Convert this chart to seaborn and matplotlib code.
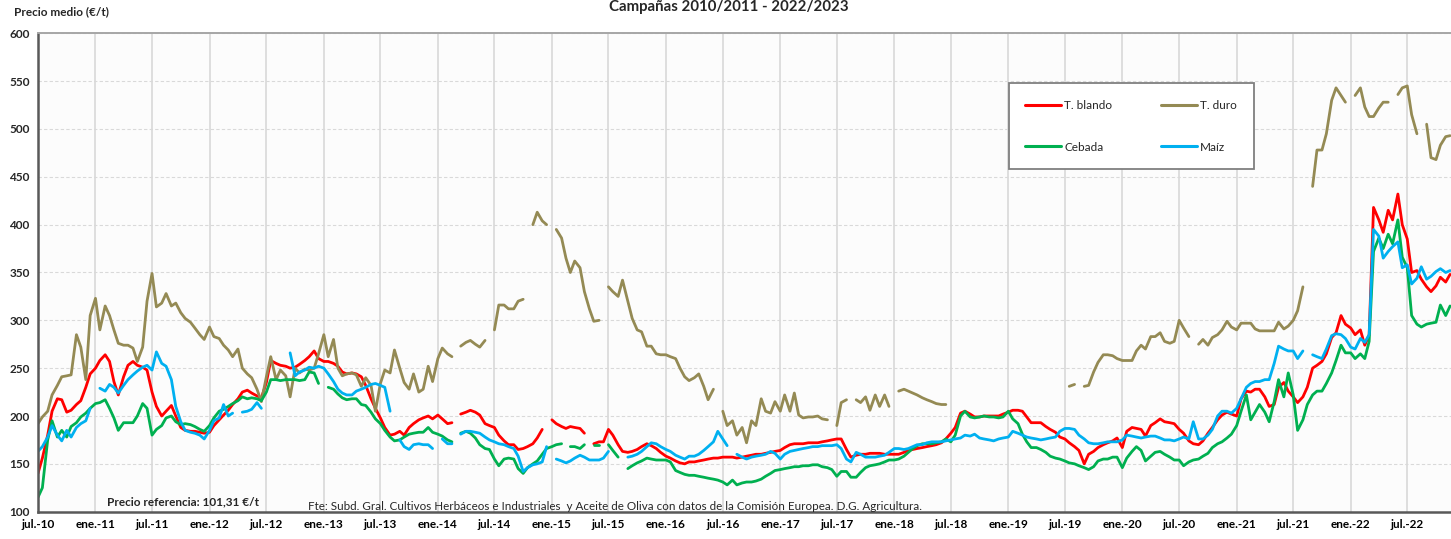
import numpy as np
import pandas as pd
import matplotlib
matplotlib.use("Agg")
import matplotlib.pyplot as plt
import seaborn as sns
from matplotlib.lines import Line2D

nan = np.nan

# ---------------- data (semi-monthly readings, Jul-2010 .. Nov-2022) ----------------
fechas = pd.date_range("2010-07-01", periods=298, freq="SMS")

t_blando = [
    140, 156, 180, 205, 218, 217, 204, 206, 212, 216, 230, 244,
    250, 258, 264, 257, 236, 222, 241, 253, 257, 253, 251, 248,
    225, 210, 200, 205, 211, 200, 188, 185, 184, 184, 183, 182,
    183, 190, 196, 201, 206, 212, 218, 225, 227, 224, 221, 219,
    235, 258, 255, 253, 252, 250, 251, 254, 258, 262, 268, 260,
    257, 257, 255, 252, 246, 244, 245, 244, 241, 232, 218, 208,
    198, 188, 180, 181, 184, 180, 188, 192, 196, 198, 200, 197,
    201, 197, 192, 193, nan, 202, 204, 206, 204, 201, 192, 190,
    188, 180, 174, 170, 170, 165, 166, 168, 171, 177, 186, nan,
    196, 192, 189, 187, 189, 188, 187, 182, nan, 171, 173, 173,
    186, 180, 170, 163, 162, 163, 165, 168, 171, 169, 166, 162,
    158, 156, 153, 151, 150, 152, 152, 153, 154, 155, 156, 156,
    157, 157, 157, 156, 157, 158, 159, 160, 160, 161, 162, 163,
    164, 167, 170, 171, 171, 171, 172, 172, 172, 173, 174, 175,
    176, 176, 165, 157, 159, 160, 160, 161, 161, 161, 160, 160,
    160, 160, 162, 164, 165, 166, 167, 168, 169, 170, 172, 176,
    182, 188, 203, 205, 202, 199, 199, 200, 200, 200, 200, 202,
    204, 206, 206, 205, 199, 193, 193, 193, 189, 186, 183, 178,
    176, 172, 168, 164, 150, 160, 163, 167, 170, 172, 174, 177,
    167, 184, 188, 187, 186, 179, 190, 193, 197, 194, 193, 192,
    186, 182, 174, 171, 170, 174, 182, 188, 196, 201, 204, 202,
    200, 218, 226, 225, 228, 228, 220, 210, 212, 230, 235, 226,
    220, 214, 220, 230, 250, 253, 257, 265, 282, 287, 305, 296,
    292, 285, 290, 274, 285, 418, 405, 392, 415, 405, 432, 400,
    385, 350, 352, 343, 335, 330, 336, 345, 340, 348,
]

t_duro = [
    192, 199, 205, 222, 232, 241, 242, 243, 285, 272, 238, 305,
    323, 290, 315, 305, 290, 276, 274, 274, 271, 257, 272, 320,
    349, 314, 318, 328, 315, 318, 308, 302, 298, 292, 285, 280,
    293, 283, 281, 274, 269, 262, 270, 250, 244, 240, 228, 215,
    241, 262, 238, 248, 242, 220, 250, 245, 249, 248, 250, 265,
    285, 262, 280, 250, 242, 244, 245, 243, 231, 240, 232, 205,
    234, 248, 245, 269, 250, 235, 228, 244, 225, 228, 252, 236,
    260, 271, 265, 262, nan, 273, 277, 279, 275, 272, 279, nan,
    290, 316, 316, 312, 312, 320, 322, nan, 400, 413, 404, 400,
    nan, 395, 386, 365, 350, 362, 355, 330, 312, 299, 300, nan,
    335, 330, 325, 342, 320, 302, 290, 288, 273, 273, 265, 264,
    264, 262, 260, 250, 241, 237, 240, 244, 231, 217, 228, nan,
    205, 190, 195, 180, 188, 172, 195, 190, 218, 205, 203, 215,
    205, 222, 205, 224, 201, 198, 199, 199, 200, 197, 196, nan,
    190, 214, 217, nan, 217, 214, 220, 206, 222, 210, 222, 210,
    nan, 226, 228, 226, 224, 222, 219, 217, 215, 213, 212, 212,
    nan, nan, nan, nan, nan, nan, nan, nan, nan, nan, nan, nan,
    nan, nan, nan, nan, nan, nan, nan, nan, nan, nan, nan, nan,
    nan, 231, 233, nan, 231, 232, 246, 256, 264, 264, 263, 260,
    258, 258, 258, 268, 274, 270, 283, 283, 287, 278, 276, 278,
    300, 292, 283, nan, 275, 280, 274, 282, 285, 290, 299, 293,
    290, 297, 297, 297, 291, 289, 289, 289, 289, 298, 291, 294,
    300, 310, 335, nan, 440, 478, 478, 495, 530, 543, 535, 528,
    nan, 535, 543, 523, 513, 513, 522, 528, 528, nan, 536, 543,
    545, 515, 495, nan, 505, 470, 468, 483, 492, 493,
]

cebada = [
    115, 125, 175, 195, 178, 185, 178, 189, 193, 199, 203, 208,
    213, 214, 217, 208, 198, 185, 193, 193, 193, 200, 213, 208,
    180, 186, 190, 198, 200, 194, 191, 192, 191, 189, 186, 184,
    190, 198, 205, 207, 210, 213, 216, 220, 218, 219, 218, 216,
    225, 238, 238, 237, 238, 238, 238, 237, 238, 246, 245, 234,
    nan, 230, 228, 223, 219, 217, 218, 218, 212, 211, 204, 197,
    192, 185, 178, 174, 175, 178, 181, 182, 183, 183, 188, 183,
    181, 179, 175, 173, nan, 182, 184, 182, 177, 170, 166, 165,
    155, 148, 155, 156, 155, 145, 140, 146, 150, 153, 160, 166,
    168, 170, 171, nan, 168, 168, 166, 170, nan, 170, 170, nan,
    170, 164, 157, nan, 145, 148, 151, 153, 156, 155, 154, 154,
    154, 152, 143, 141, 139, 138, 138, 137, 136, 135, 134, 133,
    131, 128, 133, 128, 130, 131, 131, 132, 134, 137, 140, 143,
    144, 145, 146, 147, 147, 148, 148, 149, 149, 147, 146, 144,
    137, 142, 142, 136, 136, 141, 146, 148, 149, 150, 152, 154,
    154, 155, 158, 162, 166, 169, 171, 171, 171, 172, 173, 176,
    173, 180, 200, 205, 199, 198, 199, 200, 199, 199, 198, 199,
    205, 197, 192, 181, 173, 167, 167, 165, 162, 158, 156, 155,
    153, 151, 150, 148, 146, 144, 147, 153, 155, 155, 157, 157,
    146, 156, 163, 168, 164, 153, 158, 162, 163, 160, 157, 154,
    154, 148, 152, 154, 155, 158, 161, 167, 171, 173, 177, 181,
    190, 205, 222, 196, 204, 212, 204, 194, 215, 238, 220, 245,
    222, 185, 196, 212, 222, 226, 226, 234, 245, 258, 274, 266,
    266, 260, 265, 260, 278, 372, 386, 375, 390, 380, 405, 366,
    355, 305, 296, 293, 296, 297, 298, 316, 305, 315,
]

maiz = [
    163, 168, 178, 190, 180, 174, 185, 178, 188, 192, 195, 208,
    nan, 229, 226, 233, 230, 224, 232, 238, 243, 247, 251, 253,
    248, 267, 255, 252, 238, 210, 194, 185, 183, 182, 180, 176,
    185, 195, 198, 212, 200, 203, nan, 204, 205, 207, 214, 208,
    nan, nan, nan, nan, nan, 266, 242, 246, 248, 251, 250, 252,
    250, 244, 236, 228, 224, 222, 222, 226, 228, 230, 233, 234,
    232, 230, 205, nan, 175, 168, 165, 170, 171, 170, 170, 166,
    nan, 176, 171, 171, nan, 181, 184, 184, 183, 182, 178, 175,
    173, 171, 170, 168, 166, 158, 142, 146, 149, 150, 152, 168,
    nan, 155, 153, 151, 153, 156, 159, 157, 154, 154, 154, 156,
    163, nan, nan, nan, 157, 158, 160, 163, 168, 172, 171, 168,
    165, 163, 159, 157, 155, 158, 158, 160, 164, 168, 173, 184,
    176, 169, nan, 160, 157, 155, 157, 158, 159, 160, 163, 161,
    155, 160, 163, 164, 165, 166, 167, 168, 168, 169, 169, 169,
    170, 166, 155, 152, 162, 160, 157, 157, 157, 158, 159, 162,
    166, 166, 165, 166, 168, 170, 170, 172, 173, 173, 173, 174,
    175, 176, 177, 180, 179, 181, 177, 176, 175, 174, 176, 177,
    178, 184, 182, 180, 178, 177, 176, 175, 176, 177, 178, 184,
    187, 187, 186, 180, 176, 172, 171, 171, 172, 173, 173, 173,
    175, 180, 179, 178, 177, 178, 179, 179, 177, 175, 175, 174,
    176, 178, 176, 194, 176, 176, 180, 186, 200, 205, 205, 203,
    208, 218, 230, 234, 236, 236, 238, 238, 255, 273, 270, 268,
    268, 260, 268, nan, 264, 262, 260, 270, 284, 286, 285, 281,
    272, 270, 281, 277, 285, 395, 388, 365, 372, 377, 382, 355,
    358, 338, 344, 356, 343, 346, 351, 354, 350, 352,
]

series_names = ["T. blando", "T. duro", "Cebada", "Maíz"]
series_values = [t_blando, t_duro, cebada, maiz]
series_colors = ["#FF0000", "#948A54", "#00B050", "#00B0F0"]

tick_labels = ["jul.-10", "ene.-11", "jul.-11", "ene.-12", "jul.-12", "ene.-13",
               "jul.-13", "ene.-14", "jul.-14", "ene.-15", "jul.-15", "ene.-16",
               "jul.-16", "ene.-17", "jul.-17", "ene.-18", "jul.-18", "ene.-19",
               "jul.-19", "ene.-20", "jul.-20", "ene.-21", "jul.-21", "ene.-22",
               "jul.-22"]
y_ticks = [100, 150, 200, 250, 300, 350, 400, 450, 500, 550, 600]

# ---------------- build long table, one unit per unbroken stretch ----------------
frames = []
for name, vals in zip(series_names, series_values):
    v = np.array(vals, dtype=float)
    tramo = np.cumsum(np.isnan(v))
    df = pd.DataFrame({"fecha": fechas, "precio": v, "serie": name,
                       "unidad": [f"{name}_{t}" for t in tramo]})
    frames.append(df.dropna(subset=["precio"]))
data = pd.concat(frames, ignore_index=True)

# ---------------- figure ----------------
sns.set_style("white")
plt.rcParams["font.family"] = ["Lato", "DejaVu Sans"]

fig = plt.figure(figsize=(14.51, 5.39), dpi=100)
ax = fig.add_axes([0.02619, 0.0507, 0.97381, 0.8875])
ax.set_facecolor("#FCFCFC")

sns.lineplot(data=data, x="fecha", y="precio", hue="serie", units="unidad",
             estimator=None, hue_order=series_names,
             palette=dict(zip(series_names, series_colors)),
             linewidth=2.0, legend=False, ax=ax)

tick_pos = pd.date_range("2010-07-01", "2022-07-01", freq="6MS")
ax.set_xticks(tick_pos)
ax.set_xticklabels(tick_labels, fontweight="bold", fontsize=8.5)
ax.set_xlim(pd.Timestamp("2010-07-01"), pd.Timestamp("2022-11-18"))
ax.set_ylim(100, 600)
ax.set_yticks(y_ticks)
ax.set_yticklabels([str(t) for t in y_ticks], fontweight="bold", fontsize=8.5)
ax.set_xlabel("")
ax.set_ylabel("")

ax.set_axisbelow(True)
ax.xaxis.grid(True, color="#D9D9D9", linewidth=1.2, linestyle="-")
ax.yaxis.grid(True, color="#D9D9D9", linewidth=0.8, linestyle=(0, (3, 2)))

ax.tick_params(axis="x", length=0, pad=5, colors="black")
ax.tick_params(axis="y", length=4, width=1, color="#595959", pad=2)

for side in ["left", "bottom"]:
    ax.spines[side].set_color("#595959")
    ax.spines[side].set_linewidth(1.8)
ax.spines["top"].set_color("#A6A6A6")
ax.spines["top"].set_linewidth(1.4)
ax.spines["right"].set_visible(False)

# legend laid out row-wise: (T. blando, T. duro) / (Cebada, Maíz)
order = [0, 2, 1, 3]
handles = [Line2D([], [], color=series_colors[i], lw=2.2) for i in order]
labels = [series_names[i] for i in order]
leg = ax.legend(handles, labels, ncol=2, loc="upper left",
                bbox_to_anchor=(0.687, 0.7232, 0.1734, 0.1723), mode="expand",
                borderaxespad=0, borderpad=1.4, labelspacing=2.6,
                handlelength=3.0, handletextpad=0.3, fontsize=8.5,
                frameon=True, fancybox=False, framealpha=1,
                edgecolor="#7F7F7F", facecolor="white")
leg.get_frame().set_linewidth(1.3)

W, H = 1451, 539
fig.text(729 / W, 1 - 7 / H, "Campañas 2010/2011 - 2022/2023", ha="center",
         va="center", fontsize=10.8, fontweight="bold")
fig.text(14 / W, 1 - 12 / H, "Precio medio (€/t)", ha="left", va="center",
         fontsize=8.5, fontweight="bold")
fig.text(107 / W, 1 - 502 / H, "Precio referencia: 101,31 €/t", ha="left",
         va="center", fontsize=8.5, fontweight="bold")
fig.text(308 / W, 1 - 506.5 / H,
         "Fte: Subd. Gral. Cultivos Herbáceos e Industriales  y Aceite de Oliva "
         "con datos de la Comisión Europea. D.G. Agricultura.",
         ha="left", va="center", fontsize=8.4)

fig.savefig("out.png", dpi=100, facecolor="white")
